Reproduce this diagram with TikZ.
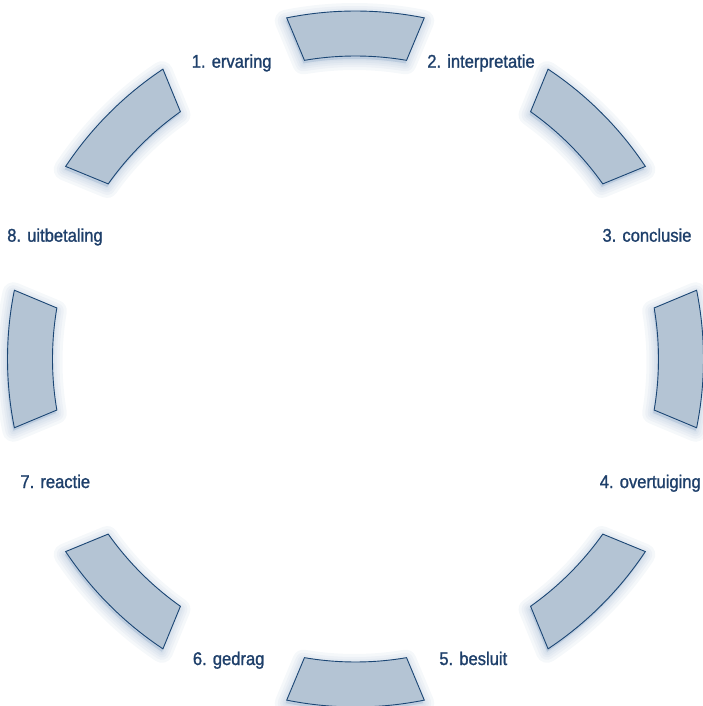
\documentclass[tikz,border=0pt]{standalone}
\usepackage{fontspec}
\setmainfont{Liberation Sans}[FakeStretch=0.9, FakeBold=1.2]
\definecolor{segfill}{HTML}{B4C4D4}
\definecolor{segline}{HTML}{1B4674}
\definecolor{labtext}{HTML}{1E3F6A}
\definecolor{glowc}{HTML}{8FA9C8}
\begin{document}
\begin{tikzpicture}[x=1pt,y=1pt,
  lab/.style={anchor=base, text=labtext, font=\fontsize{18.4}{20}\selectfont, inner sep=0pt},
  segbox/.style={fill=segfill, draw=segline, line width=0.9pt, line join=miter},
  glowline/.style={draw=glowc, line join=round, draw opacity=0.085, fill=glowc, fill opacity=0.085}]
\useasboundingbox (-355.5,-347) rectangle (346.5,359);
\newcommand{\segpath}[1]{(#1-11.4:348pt) arc[start angle=#1-11.4, end angle=#1+11.4, radius=348pt] -- (#1+9.7:303pt) arc[start angle=#1+9.7, end angle=#1-9.7, radius=303pt] -- cycle}
% glow
\foreach \a in {0,45,...,315} {
  \foreach \w in {22,16,11,7,3} {
    \path[glowline, line width=\w pt, shift={(-1,-3)}] \segpath{\a};
  }
}
% segments
\foreach \a in {0,45,...,315} {
  \path[segbox] \segpath{\a};
}
% labels
\node[lab] (l1) at (-123.8,291.3) {1. ervaring};
\node[lab] (l2) at (125.5,291.3) {2. interpretatie};
\node[lab] (l3) at (291.5,117.3) {3. conclusie};
\node[lab] (l4) at (294.8,-129) {4. overtuiging};
\node[lab] (l5) at (117.8,-306) {5. besluit};
\node[lab] (l6) at (-126.8,-306) {6. gedrag};
\node[lab] (l7) at (-300.2,-129) {7. reactie};
\node[lab] (l8) at (-300.5,117.3) {8. uitbetaling};
\end{tikzpicture}
\end{document}
